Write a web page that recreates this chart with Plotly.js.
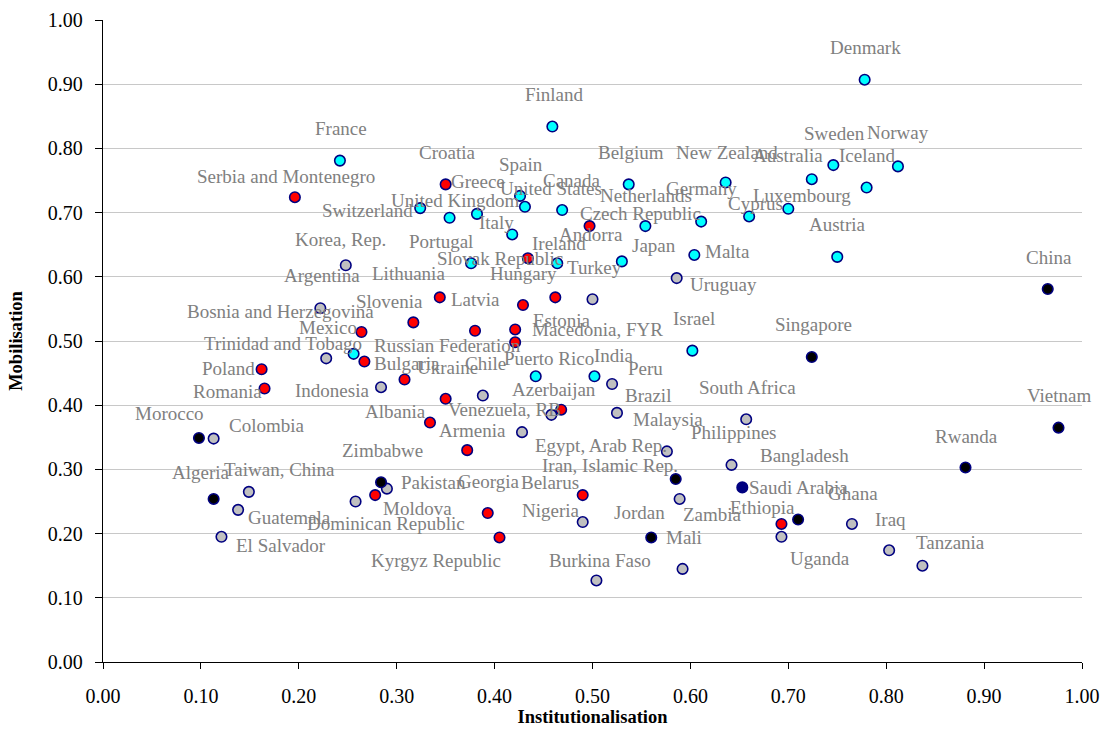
<!DOCTYPE html>
<html><head><meta charset="utf-8">
<script src="https://cdn.plot.ly/plotly-3.0.1.min.js"></script>
<style>html,body{margin:0;padding:0;background:#fff;}#chart{width:1101px;height:749px;}</style>
</head><body><div id="chart"></div>
<script>
// ---- data (Institutionalisation = x, Mobilisation = y) ----
const cyanNames = ["Denmark","Finland","France","Sweden","Norway","Iceland","Australia","Luxembourg","Cyprus","New Zealand","Germany","Belgium","Netherlands","Austria","Malta","Japan","Spain","Canada","United States","United Kingdom","Greece","Switzerland","Italy","Portugal","Ireland","Israel","Puerto Rico","India","Trinidad and Tobago"];
const cyanInst  = [0.778,0.459,0.242,0.746,0.812,0.780,0.724,0.700,0.660,0.636,0.611,0.537,0.554,0.750,0.604,0.530,0.426,0.469,0.431,0.354,0.382,0.324,0.418,0.376,0.464,0.602,0.442,0.502,0.256];
const cyanMob   = [0.907,0.834,0.781,0.774,0.772,0.739,0.752,0.706,0.694,0.747,0.686,0.744,0.679,0.631,0.634,0.624,0.726,0.704,0.709,0.692,0.698,0.707,0.666,0.621,0.621,0.485,0.445,0.445,0.480];

const redNames = ["Serbia and Montenegro","Croatia","Czech Republic","Slovak Republic","Lithuania","Latvia","Hungary","Slovenia","Andorra","Macedonia, FYR","Mexico","Estonia","Bulgaria","Poland","Romania","Ukraine","Russian Federation","Albania","Armenia","Azerbaijan","Moldova","Georgia","Kyrgyz Republic","Belarus","Ethiopia"];
const redInst  = [0.196,0.350,0.497,0.434,0.344,0.380,0.429,0.317,0.462,0.421,0.264,0.421,0.267,0.162,0.165,0.350,0.308,0.334,0.372,0.468,0.278,0.393,0.405,0.490,0.693];
const redMob   = [0.724,0.744,0.679,0.629,0.568,0.516,0.556,0.529,0.568,0.518,0.514,0.498,0.468,0.456,0.426,0.410,0.440,0.373,0.330,0.393,0.260,0.232,0.194,0.260,0.215];

const greyNames = ["Korea, Rep.","Argentina","Uruguay","Turkey","Bosnia and Herzegovina","Indonesia","Colombia","Taiwan, China","Guatemala","El Salvador","Pakistan","Dominican Republic","Chile","Peru","Venezuela, RB","Brazil","Egypt, Arab Rep.","Malaysia","Philippines","Zambia","Nigeria","Mali","Burkina Faso","South Africa","Uganda","Ghana","Iraq","Tanzania"];
const greyInst  = [0.248,0.222,0.586,0.500,0.228,0.284,0.113,0.149,0.138,0.121,0.290,0.258,0.388,0.520,0.458,0.525,0.428,0.576,0.642,0.589,0.490,0.592,0.504,0.657,0.693,0.765,0.803,0.837];
const greyMob   = [0.618,0.551,0.598,0.565,0.473,0.428,0.348,0.265,0.237,0.195,0.270,0.250,0.415,0.433,0.385,0.388,0.358,0.328,0.307,0.254,0.218,0.145,0.127,0.378,0.195,0.215,0.174,0.150];

const blackNames = ["China","Singapore","Vietnam","Rwanda","Morocco","Algeria","Zimbabwe","Iran, Islamic Rep.","Jordan","Saudi Arabia"];
const blackInst  = [0.965,0.724,0.976,0.881,0.098,0.113,0.284,0.585,0.560,0.710];
const blackMob   = [0.581,0.475,0.365,0.303,0.349,0.254,0.280,0.285,0.194,0.222];

const navyNames = ["Bangladesh"];
const navyInst  = [0.653];
const navyMob   = [0.272];

const xTickVals = [0,0.1,0.2,0.3,0.4,0.5,0.6,0.7,0.8,0.9,1.0];
const yTickVals = [0,0.1,0.2,0.3,0.4,0.5,0.6,0.7,0.8,0.9,1.0];

// ---- label placement (pixel offsets of each label centre from its point) ----
const cyanLabelDx = [1.3,1.7,1.3,1,0,0.4,-23.4,14,6,1.7,0,2.7,1,0.7,33,32.6,1,9.4,25.7,5.7,1,-52.3,-15.7,-30,1.4,2,13.7,19.5,-71];
const cyanLabelDy = [-32.7,-31.6,-32,-31.7,-33.4,-31.7,-23.3,-13.7,-13.4,-30.3,-32.6,-32,-31,-32.4,-3.3,-16,-31.3,-29.3,-18,-17,-32,2.7,-12,-22.3,-20.3,-32,-18,-21.3,-10.4];
const redLabelDx = [-9,1.7,50.7,-28.3,-31.4,0.3,0.7,-23.5,35.4,81.9,-33,46.4,42.2,-32.7,-37,2.3,43.4,-34,5.3,-7,42.5,0.6,-63.3,-33.2,-18.5];
const redLabelDy = [-20.6,-32,-12.3,0,-24,-31.3,-31.6,-20.4,-63,0,-4.7,-21.3,2,-1,3.3,-31.4,-34,-11.3,-19.3,-20.3,13,-31.7,23.4,-12.3,-16.4];
const greyLabelDx = [-5,1.6,46.7,2,-45.7,-49.4,53.4,30.3,51.7,60,47,30.3,2.4,33.5,-46.5,31.1,78.5,1.5,2,32.7,-31.7,1.1,3.7,1,39,0.8,1,28.5];
const greyLabelDy = [-25.3,-32.3,6,-31.3,-47.3,3.4,-12.7,-22.3,8,8.7,-6.4,22.3,-31.6,-15.3,-5.7,-17.7,13.4,-31.7,-32.4,15.3,-11.3,-31.4,-19.6,-31.8,21.7,-30.7,-31,-23.3];
const blackLabelDx = [1,1.6,0.5,1.3,-29.3,-12.6,1,-65.5,-12,0.7];
const blackLabelDy = [-32,-32.7,-31.7,-31,-24,-26.4,-31.3,-14,-25.3,-32];
const navyLabelDx = [62.5];
const navyLabelDy = [-32];

const groups = [
  {names: greyNames,  x: greyInst,  y: greyMob,  fill: '#C0C0C0', dx: greyLabelDx,  dy: greyLabelDy},
  {names: blackNames, x: blackInst, y: blackMob, fill: '#000000', dx: blackLabelDx, dy: blackLabelDy},
  {names: navyNames,  x: navyInst,  y: navyMob,  fill: '#000080', dx: navyLabelDx,  dy: navyLabelDy},
  {names: cyanNames,  x: cyanInst,  y: cyanMob,  fill: '#00FFFF', dx: cyanLabelDx,  dy: cyanLabelDy},
  {names: redNames,   x: redInst,   y: redMob,   fill: '#FF0000', dx: redLabelDx,   dy: redLabelDy}
];

const traces = groups.map(g => ({
  type: 'scatter', mode: 'markers',
  x: g.x, y: g.y, text: g.names,
  hovertemplate: '%{text}<br>%{x:.2f}, %{y:.2f}<extra></extra>',
  marker: {size: 10.5, color: g.fill, line: {color: '#000080', width: 1.6}},
  showlegend: false, cliponaxis: false
}));

const annotations = [];
groups.forEach(g => {
  g.names.forEach((n, i) => {
    annotations.push({
      x: g.x[i], y: g.y[i], xref: 'x', yref: 'y', text: n, showarrow: false,
      xanchor: 'center', yanchor: 'middle',
      xshift: g.dx[i], yshift: -g.dy[i],
      font: {family: 'Liberation Serif', size: 19, color: '#808080'}
    });
  });
});

const axisFont = {family: 'Liberation Serif', size: 20, color: '#000000'};

const layout = {
  width: 1101, height: 749,
  margin: {l: 103, r: 19, t: 20, b: 87, pad: 0},
  paper_bgcolor: '#ffffff', plot_bgcolor: '#ffffff',
  showlegend: false,
  font: {family: 'Liberation Serif', color: '#000000'},
  xaxis: {
    range: [0, 1], tickvals: xTickVals, tickformat: '.2f',
    showgrid: false, zeroline: false, showline: true, linecolor: '#000000', linewidth: 1.3,
    ticks: 'outside', ticklen: 6, tickcolor: '#000000', tickwidth: 1.3,
    tickfont: axisFont, ticklabelstandoff: 10,
    title: {text: 'Institutionalisation', standoff: 0,
            font: {family: 'Liberation Serif', size: 18.5, color: '#000000', weight: 'bold'}}
  },
  yaxis: {
    range: [0, 1], tickvals: yTickVals, tickformat: '.2f',
    showgrid: true, gridcolor: '#C8C8C8', gridwidth: 1,
    zeroline: false, showline: true, linecolor: '#000000', linewidth: 1.3,
    ticks: 'outside', ticklen: 7, tickcolor: '#000000', tickwidth: 1.3,
    tickfont: axisFont, ticklabelstandoff: 8,
    title: {text: 'Mobilisation', standoff: 20,
            font: {family: 'Liberation Serif', size: 18.5, color: '#000000', weight: 'bold'}}
  },
  annotations: annotations
};

Plotly.newPlot('chart', traces, layout, {displayModeBar: false});
</script>
</body></html>
